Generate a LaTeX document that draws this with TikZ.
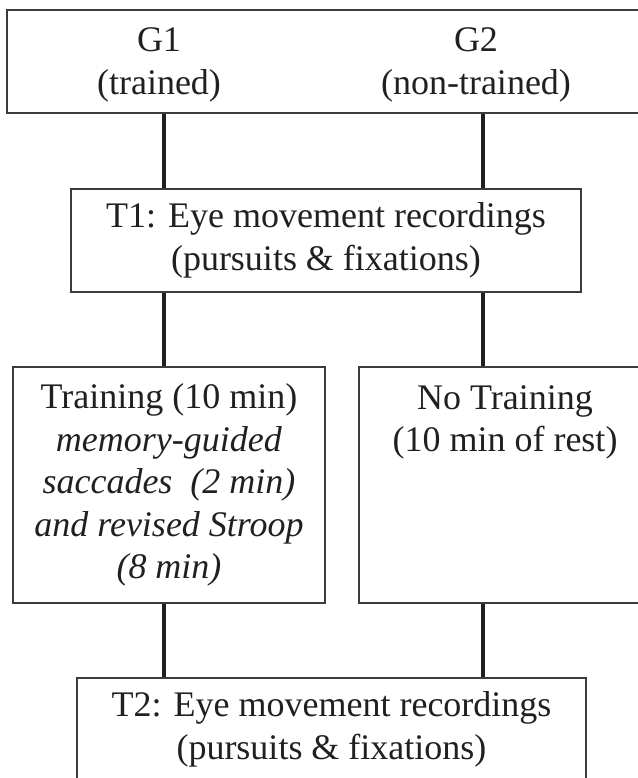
\documentclass[tikz,border=0pt]{standalone}
\usepackage{fontspec}
\setmainfont{Liberation Serif}
\usepackage{xcolor}
\usetikzlibrary{positioning}

\definecolor{inkdark}{HTML}{231F20}
\definecolor{framegray}{HTML}{3C3C3C}

\tikzset{
  stage/.style={draw=framegray, line width=0.8pt, rectangle, inner sep=0pt,
    align=center, text=inkdark},
  grouptext/.style={align=center, inner sep=0pt, text=inkdark},
  link/.style={draw=inkdark, line width=2pt},
}

\begin{document}
\begin{tikzpicture}[x=0.5pt, y=-0.5pt]
\fontsize{18}{21.25}\selectfont
\useasboundingbox (0,0) rectangle (638,778);
\clip (0,0) rectangle (638,778);

% columns of the two groups
\coordinate (lcol) at (164,0);
\coordinate (rcol) at (483,0);

% groups
\node[stage, minimum width=317pt, minimum height=51.5pt] (groups) at (324,61.5) {};
\node[grouptext] (g1) at (159,65) {G1\\(trained)};
\node[grouptext] (g2) at (476,65) {G2\\(non-trained)};

% first recording
\node[stage, minimum width=255pt, minimum height=51.5pt] (t1) at (326,240.5)
  {T1: Eye movement recordings\\(pursuits \& fixations)};

% training / no training
\node[stage, minimum width=156pt, minimum height=118pt] (train) at (169,485)
  {Training (10 min)\\\textit{memory-guided}\\\textit{saccades\ \ (2 min)}\\
   \textit{and revised Stroop}\\\textit{(8 min)}};
\node[stage, minimum width=146pt, minimum height=118pt] (notrain) at (505,485) {};
\node[grouptext, anchor=north] (resttext) at (505,385) {No Training\\(10 min of rest)};

% second recording
\node[stage, minimum width=254.5pt, minimum height=51.5pt] (t2) at (331.5,729.5)
  {T2: Eye movement recordings\\(pursuits \& fixations)};

% connectors
\draw[link] (groups.south -| lcol) -- (t1.north -| lcol);
\draw[link] (groups.south -| rcol) -- (t1.north -| rcol);
\draw[link] (t1.south -| lcol) -- (train.north -| lcol);
\draw[link] (t1.south -| rcol) -- (notrain.north -| rcol);
\draw[link] (train.south -| lcol) -- (t2.north -| lcol);
\draw[link] (notrain.south -| rcol) -- (t2.north -| rcol);
\end{tikzpicture}
\end{document}
